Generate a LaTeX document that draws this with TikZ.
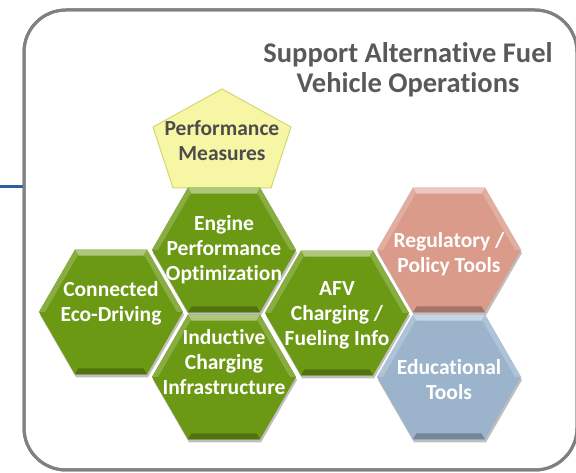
\documentclass[tikz,border=0pt]{standalone}
\usepackage{fontspec}
\setmainfont[Ligatures=NoCommon]{Carlito}
\usetikzlibrary{shadows}

\definecolor{hexgreen}{RGB}{107,153,19}
\definecolor{hexpink}{RGB}{218,155,138}
\definecolor{hexblue}{RGB}{155,180,204}
\definecolor{pentyellow}{RGB}{246,246,165}
\definecolor{pentline}{RGB}{214,214,118}
\definecolor{framegray}{RGB}{128,128,128}
\definecolor{leadblue}{RGB}{46,95,154}
\definecolor{titlegray}{RGB}{89,89,89}
\definecolor{pentgray}{RGB}{77,77,77}

\tikzset{
    hexshadow/.style={drop shadow={shadow xshift=1pt, shadow yshift=-3pt, opacity=0.25, fill=black}},
    celltext/.style={text=white, font=\bfseries\fontsize{21.5}{25}\selectfont, align=center, inner sep=0pt},
    framebox/.style={draw=framegray, line width=3pt, rounded corners=42pt, inner sep=0pt},
}

% name, centre, colour, text, text shift
\newcommand\hexcell[5]{%
    \coordinate (#1) at (#2);
    \fill[#3, hexshadow, shift={(#1)}] (0:72) -- (60:72) -- (120:72) -- (180:72) -- (240:72) -- (300:72) -- cycle;
    \fill[#3!55!white, shift={(#1)}] (60:72) -- (120:72) -- (120:65) -- (60:65) -- cycle;
    \fill[#3!80!white, shift={(#1)}] (120:72) -- (180:72) -- (180:66) -- (120:66) -- cycle;
    \fill[#3!80!white, shift={(#1)}] (0:72) -- (60:72) -- (60:66) -- (0:66) -- cycle;
    \fill[#3!75!black, shift={(#1)}] (240:72) -- (300:72) -- (300:65) -- (240:65) -- cycle;
    \node[celltext] (#1 text) at ([yshift=#5]#1) {#4};
}

\begin{document}
\begin{tikzpicture}[x=1pt,y=1pt]
    \useasboundingbox (0,0) rectangle (576,473);

    \coordinate (lead) at (0,286);
    \node[framebox, minimum width=553pt, minimum height=460pt] (frame) at (300.5,233) {};
    \draw[leadblue, line width=3pt] (lead) -- (frame.west |- lead);
    \node[framebox, minimum width=553pt, minimum height=460pt] at (frame) {};

    \node[text=titlegray, font=\bfseries\fontsize{28.5}{30}\selectfont, align=center] (title) at (408,403)
        {Support Alternative Fuel\\Vehicle Operations};

    \filldraw[fill=pentyellow, draw=pentline, line width=1pt]
        (222,384) -- (291,346) -- (271,285) -- (173,285) -- (153,346) -- cycle;
    \node[text=pentgray, font=\bfseries\fontsize{21.5}{25}\selectfont, align=center] (perf) at (222,332)
        {Performance\\Measures};

    \hexcell{con}{111,161}{hexgreen}{Connected\\Eco-Driving}{9pt}
    \hexcell{eng}{224,223}{hexgreen}{Engine\\Performance\\Optimization}{0pt}
    \hexcell{ind}{224,96}{hexgreen}{Inductive\\Charging\\Infrastructure}{15pt}
    \hexcell{afv}{337,160}{hexgreen}{AFV\\Charging /\\Fueling Info}{-2pt}
    \hexcell{reg}{449,223}{hexpink}{Regulatory /\\Policy Tools}{-4pt}
    \hexcell{edu}{449,96}{hexblue}{Educational\\Tools}{-3pt}
\end{tikzpicture}
\end{document}
